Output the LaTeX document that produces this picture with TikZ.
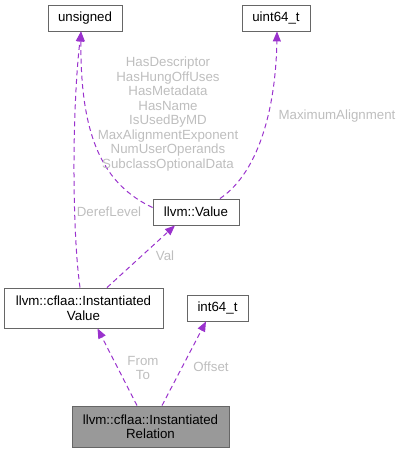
\documentclass[tikz,border=0pt]{standalone}
\usepackage{fontspec}
\setmainfont{Liberation Sans}
\usetikzlibrary{arrows.meta}
\definecolor{edgec}{HTML}{9A32CD}
\definecolor{labc}{HTML}{BEBEBE}
\definecolor{boxc}{HTML}{666666}
\definecolor{relfill}{HTML}{999999}
\begin{document}
\begin{tikzpicture}[x=1pt,y=-1pt,
  cls/.style={draw=boxc,line width=0.9pt,fill=white,inner sep=0pt,align=center,font=\fontsize{13.3}{14.5}\selectfont,text=black},
  edge/.style={draw=edgec,line width=1pt,dash pattern=on 5pt off 3.5pt,-{Triangle[length=10pt,width=8pt,fill=edgec]}},
  lab/.style={text=labc,font=\fontsize{13.3}{14.5}\selectfont,align=center,inner sep=0pt}]
\useasboundingbox (0,0) rectangle (400,452);
\node[cls,minimum width=74pt,minimum height=26pt] (uns) at (85,18) {unsigned};
\node[cls,minimum width=68pt,minimum height=26pt] (u64) at (276,18) {uint64\_t};
\node[cls,minimum width=86pt,minimum height=26pt] (val) at (196,212) {llvm::Value};
\node[cls,minimum width=159pt,minimum height=40pt] (iv) at (83.5,308) {llvm::cflaa::Instantiated\\Value};
\node[cls,minimum width=61pt,minimum height=26pt] (i64) at (217.5,308) {int64\_t};
\node[cls,fill=relfill,minimum width=157pt,minimum height=41pt] (rel) at (150.5,426.5) {llvm::cflaa::Instantiated\\Relation};
% edges
\draw[edge] ([xshift=-3.5pt]iv.north) .. controls (72,230) and (72,110) .. ([xshift=-4pt]uns.south);
\draw[edge] ([yshift=-9pt]val.north west) .. controls (105,185) and (80,140) .. ([xshift=-4pt]uns.south);
\draw[edge] ([xshift=24pt]val.north) .. controls (262,170) and (276,100) .. ([xshift=1pt]u64.south);
\draw[edge] ([xshift=23.5pt]iv.north) -- ([xshift=-21pt]val.south);
\draw[edge] ([xshift=-13.5pt]rel.north) -- ([xshift=14pt]iv.south);
\draw[edge] ([xshift=11.5pt]rel.north) -- ([xshift=-11.5pt]i64.south);
% labels
\node[lab] (l1) at (168,114) {HasDescriptor\\HasHungOffUses\\HasMetadata\\HasName\\IsUsedByMD\\MaxAlignmentExponent\\NumUserOperands\\SubclassOptionalData};
\node[lab] (l2) at (337,116) {MaximumAlignment};
\node[lab] (l3) at (109,212) {DerefLevel};
\node[lab] (l4) at (165,256) {Val};
\node[lab] (l5) at (143,368) {From\\To};
\node[lab] (l6) at (211,367) {Offset};
\end{tikzpicture}
\end{document}
